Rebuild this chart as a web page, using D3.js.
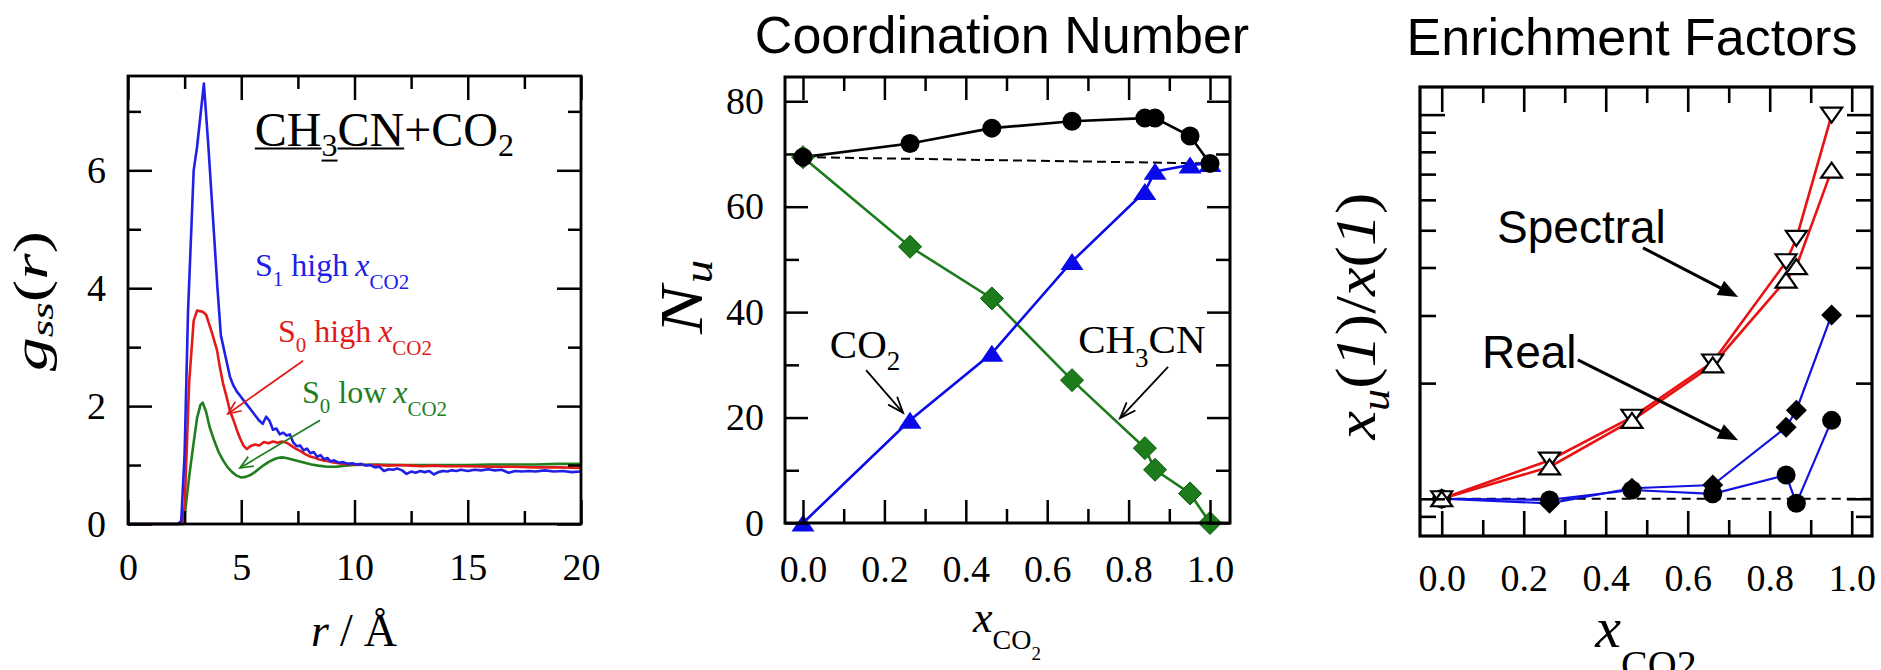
<!DOCTYPE html>
<html>
<head>
<meta charset="utf-8">
<script src="https://cdn.jsdelivr.net/npm/d3@7"></script>
<style>
  html, body { margin: 0; padding: 0; background: #fff; }
  svg { display: block; }
</style>
</head>
<body>
<svg id="fig" width="1881" height="670"></svg>
<script>
// ---------- data ----------
// radial distribution functions g_ss(r): [r (Å), g]
const gS1High = [[0,0],[2.2,0],[2.35,0.05],[2.5,1.2],[2.65,3.6],[2.9,6.0],[3.05,6.4],[3.35,7.47],[3.55,6.4],[3.75,5.2],[3.95,4.0],[4.1,3.2],[4.3,2.85],[4.5,2.5],[4.65,2.35],[4.8,2.25],[5.0,2.15],[5.2,2.05],[5.4,1.95],[5.6,1.85],[5.8,1.75],[5.95,1.7],[6.1,1.82],[6.25,1.75],[6.4,1.6],[6.55,1.62],[6.7,1.52],[6.85,1.55],[7.0,1.5],[7.15,1.52],[7.3,1.38],[7.45,1.32],[7.6,1.33],[7.75,1.25],[7.9,1.28],[8.05,1.2],[8.2,1.22],[8.35,1.14],[8.5,1.17],[8.65,1.1],[8.8,1.12],[8.95,1.06],[9.1,1.08],[9.3,1.04],[9.5,1.05],[9.7,1.02],[9.9,1.03],[10.1,1.01],[10.3,1.02],[10.5,0.99],[10.7,1.0],[10.9,0.96],[11.1,0.97],[11.3,0.9],[11.5,0.93],[11.7,0.92],[11.9,0.94],[12.1,0.91],[12.3,0.85],[12.5,0.89],[12.7,0.87],[12.9,0.9],[13.1,0.88],[13.3,0.9],[13.5,0.84],[13.7,0.88],[13.9,0.9],[14.1,0.89],[14.3,0.91],[14.5,0.9],[14.7,0.92],[15.0,0.9],[15.3,0.92],[15.6,0.91],[15.9,0.93],[16.2,0.91],[16.5,0.92],[16.8,0.87],[17.1,0.9],[17.4,0.89],[17.7,0.9],[18.0,0.89],[18.4,0.91],[18.8,0.89],[19.2,0.9],[19.6,0.88],[20,0.89]];
const gS0High = [[0,0],[2.35,0],[2.5,0.3],[2.7,2.4],[2.9,3.45],[3.05,3.62],[3.3,3.6],[3.45,3.55],[3.7,3.25],[3.93,2.95],[4.05,2.67],[4.2,2.38],[4.35,2.16],[4.5,1.92],[4.65,1.77],[4.8,1.6],[4.95,1.45],[5.1,1.33],[5.25,1.27],[5.4,1.32],[5.6,1.35],[5.8,1.33],[6.0,1.39],[6.2,1.37],[6.4,1.4],[6.6,1.38],[6.8,1.4],[7.0,1.38],[7.2,1.33],[7.4,1.28],[7.6,1.24],[7.8,1.19],[8.0,1.15],[8.2,1.13],[8.4,1.1],[8.6,1.08],[8.8,1.07],[9.0,1.05],[9.3,1.03],[9.6,1.02],[10,1.01],[10.5,1.0],[11,1.0],[11.5,0.99],[12,1.0],[12.5,0.99],[13,0.98],[13.5,0.99],[14,0.98],[15,0.98],[16,0.97],[17,0.97],[18,0.96],[19,0.96],[20,0.95]];
const gS0Low = [[0,0],[2.45,0],[2.55,0.3],[2.7,0.8],[2.87,1.3],[3.05,1.8],[3.2,2.02],[3.3,2.06],[3.45,1.9],[3.6,1.65],[3.8,1.42],[4.0,1.22],[4.2,1.08],[4.4,0.96],[4.6,0.88],[4.8,0.82],[5.0,0.79],[5.2,0.8],[5.4,0.83],[5.6,0.88],[5.8,0.94],[6.0,1.0],[6.2,1.05],[6.4,1.09],[6.6,1.12],[6.8,1.13],[7.0,1.12],[7.2,1.1],[7.5,1.07],[7.8,1.04],[8.1,1.01],[8.4,0.99],[8.8,0.97],[9.2,0.97],[9.6,0.99],[10,1.0],[11,1.01],[12,1.0],[13,1.0],[14,1.0],[15,1.0],[16,1.01],[17,1.01],[18,1.01],[19,1.02],[20,1.02]];

// coordination numbers vs CO2 mole fraction
const xMole  = [0, 0.263, 0.464, 0.661, 0.840, 0.865, 0.951, 1.0];
const nTotal = [69.4, 72.0, 74.9, 76.2, 76.8, 76.8, 73.4, 68.2];
const nCH3CN = [69.4, 52.4, 42.6, 27.1, 14.2, 10.1, 5.6, 0];
const nCO2   = [0, 19.5, 32.2, 49.6, 62.9, 66.7, 67.9, 68.2];

// enrichment factors x_u(1)/x(1)
const xEnrich     = [0, 0.263, 0.464, 0.661, 0.840, 0.865, 0.951];
const specDown    = [1.0, 1.26, 1.63, 2.27, 4.14, 4.76, 9.97];
const specUp      = [1.0, 1.21, 1.60, 2.23, 3.71, 4.02, 7.17];
const realDiamond = [1.0, 0.973, 1.065, 1.086, 1.535, 1.70, 3.01];
const realCircle  = [1.0, 0.993, 1.054, 1.03, 1.153, 0.973, 1.60];

// tick values
const rTicksMajor = [0, 5, 10, 15, 20];
const rTicksMinor = [2.5, 7.5, 12.5, 17.5];
const gTicksMajor = [0, 2, 4, 6];
const gTicksMinor = [1, 3, 5, 7];
const moleTicksMajor = [0, 0.2, 0.4, 0.6, 0.8, 1.0];
const moleTicksMinor = [0.1, 0.3, 0.5, 0.7, 0.9];
const nTicksMajor = [0, 20, 40, 60, 80];
const nTicksMinor = [10, 30, 50, 70];
const efTicksMajor = [1, 10];
const efTicksMinor = [0.9, 2, 3, 4, 5, 6, 7, 8, 9];

// ---------- helpers ----------
const SERIF = "'Liberation Serif', 'Times New Roman', serif";
const SANS = "'Liberation Sans', Arial, sans-serif";
const svg = d3.select("#fig");
svg.append("rect").attr("width", 1881).attr("height", 670).attr("fill", "#fff");

// lays out text runs side by side (sub/superscripts, italics, underlines)
function richText(parent, x, y, runs, opt = {}) {
  const g = parent.append("g");
  const inner = g.append("g");
  const fill = opt.fill || "#000";
  let cx = 0;
  runs.forEach(r => {
    cx += r.pre || 0;
    const t = inner.append("text")
      .attr("x", cx).attr("y", r.dy || 0)
      .attr("font-family", r.family || SERIF)
      .attr("font-size", r.size)
      .attr("font-style", r.italic ? "italic" : "normal")
      .attr("fill", r.fill || fill)
      .text(r.t);
    const w = t.node().getComputedTextLength();
    if (r.ul !== undefined) {
      inner.append("line").attr("x1", cx).attr("x2", cx + w)
        .attr("y1", r.ul).attr("y2", r.ul)
        .attr("stroke", r.fill || fill).attr("stroke-width", 2);
    }
    cx += w;
  });
  const sx = opt.length ? opt.length / cx : 1;
  const shift = opt.anchor === "middle" ? -cx / 2 : 0;
  inner.attr("transform", `translate(${shift},0)`);
  g.attr("transform", `translate(${x},${y}) rotate(${opt.rotate || 0}) scale(${sx},1)`);
  return g;
}

function arrow(g, x1, y1, x2, y2, o) {
  const dx = x2 - x1, dy = y2 - y1, L = Math.hypot(dx, dy);
  const ux = dx / L, uy = dy / L, px = -uy, py = ux;
  const bx = x2 - ux * o.headLen, by = y2 - uy * o.headLen;
  if (o.filled) {
    g.append("line").attr("x1", x1).attr("y1", y1)
      .attr("x2", bx + ux * 2).attr("y2", by + uy * 2)
      .attr("stroke", o.color).attr("stroke-width", o.width);
    g.append("path")
      .attr("d", `M${x2},${y2}L${bx + px * o.headHalf},${by + py * o.headHalf}L${bx - px * o.headHalf},${by - py * o.headHalf}Z`)
      .attr("fill", o.color);
  } else {
    g.append("line").attr("x1", x1).attr("y1", y1).attr("x2", x2).attr("y2", y2)
      .attr("stroke", o.color).attr("stroke-width", o.width);
    g.append("path")
      .attr("d", `M${bx + px * o.headHalf},${by + py * o.headHalf}L${x2},${y2}L${bx - px * o.headHalf},${by - py * o.headHalf}`)
      .attr("fill", "none").attr("stroke", o.color).attr("stroke-width", o.width)
      .attr("stroke-linejoin", "miter");
  }
}

function drawFrame(g, x, y, c) {
  const [xl, xr] = x.range();
  const [yb, yt] = y.range();
  const style = sel => {
    sel.select(".domain").remove();
    sel.selectAll(".tick line").attr("stroke", "#000").attr("stroke-width", c.tickW);
    sel.selectAll("text").attr("font-family", SERIF).attr("font-size", c.fontSize).attr("fill", "#000");
  };
  const fmtNone = () => "";
  // bottom
  g.append("g").attr("transform", `translate(0,${yb})`)
    .call(d3.axisBottom(x).tickValues(c.xMajor).tickSize(-c.majorLen).tickPadding(c.xPad).tickFormat(c.xFmt || fmtNone)).call(style);
  g.append("g").attr("transform", `translate(0,${yb})`)
    .call(d3.axisBottom(x).tickValues(c.xMinor).tickSize(-c.minorLen).tickFormat(fmtNone)).call(style);
  // top
  g.append("g").attr("transform", `translate(0,${yt})`)
    .call(d3.axisTop(x).tickValues(c.xMajor).tickSize(-c.majorLen).tickFormat(fmtNone)).call(style);
  g.append("g").attr("transform", `translate(0,${yt})`)
    .call(d3.axisTop(x).tickValues(c.xMinor).tickSize(-c.minorLen).tickFormat(fmtNone)).call(style);
  // left
  g.append("g").attr("transform", `translate(${xl},0)`)
    .call(d3.axisLeft(y).tickValues(c.yMajor).tickSize(-c.majorLen).tickPadding(c.yPad).tickFormat(c.yFmt || fmtNone)).call(style);
  g.append("g").attr("transform", `translate(${xl},0)`)
    .call(d3.axisLeft(y).tickValues(c.yMinor).tickSize(-c.minorLen).tickFormat(fmtNone)).call(style);
  // right
  g.append("g").attr("transform", `translate(${xr},0)`)
    .call(d3.axisRight(y).tickValues(c.yMajor).tickSize(-c.majorLen).tickFormat(fmtNone)).call(style);
  g.append("g").attr("transform", `translate(${xr},0)`)
    .call(d3.axisRight(y).tickValues(c.yMinor).tickSize(-c.minorLen).tickFormat(fmtNone)).call(style);
  g.append("rect").attr("x", xl).attr("y", yt).attr("width", xr - xl).attr("height", yb - yt)
    .attr("fill", "none").attr("stroke", "#000").attr("stroke-width", c.frameW);
}

const triPath = (w, h, down) => down
  ? `M0,${h / 2}L${w / 2},${-h / 2}L${-w / 2},${-h / 2}Z`
  : `M0,${-h / 2}L${w / 2},${h / 2}L${-w / 2},${h / 2}Z`;
const diamondPath = d => `M0,${-d / 2}L${d / 2},0L0,${d / 2}L${-d / 2},0Z`;

// ---------- panel 1: g_ss(r) ----------
{
  const g = svg.append("g");
  const x = d3.scaleLinear().domain([0, 20]).range([128, 581]);
  const y = d3.scaleLinear().domain([0, 7.6]).range([524, 76]);
  const line = d3.line().x(d => x(d[0])).y(d => y(d[1]));

  const curves = [
    { data: gS0Low, color: "#1f7f1f" },
    { data: gS0High, color: "#e21a1a" },
    { data: gS1High, color: "#2020e6" }
  ];
  curves.forEach(c => g.append("path").attr("d", line(c.data)).attr("fill", "none")
    .attr("stroke", c.color).attr("stroke-width", 2.6).attr("stroke-linejoin", "round"));

  drawFrame(g, x, y, {
    xMajor: rTicksMajor, xMinor: rTicksMinor, yMajor: gTicksMajor, yMinor: gTicksMinor,
    majorLen: 24, minorLen: 13, tickW: 2.5, frameW: 2.8, fontSize: 38,
    xPad: 29, yPad: 22, xFmt: d3.format("d"), yFmt: d3.format("d")
  });

  richText(g, x(5.6), y(6.42), [
    { t: "CH", size: 48, ul: 3 },
    { t: "3", size: 32, dy: 10, ul: 15 },
    { t: "CN", size: 48, ul: 3 },
    { t: "+CO", size: 48 },
    { t: "2", size: 32, dy: 10 }
  ]);

  const lbl = (r, gv, num, word, color) => richText(g, x(r), y(gv), [
    { t: "S", size: 32 },
    { t: num, size: 21, dy: 10 },
    { t: word, size: 32, pre: 8 },
    { t: "x", size: 32, italic: true, pre: 7 },
    { t: "CO2", size: 21, dy: 13 }
  ], { fill: color });
  lbl(5.61, 4.21, "1", "high", "#2020e6");
  lbl(6.62, 3.09, "0", "high", "#e21a1a");
  lbl(7.68, 2.05, "0", "low", "#1f7f1f");

  arrow(g, x(7.73), y(2.77), x(4.41), y(1.87), { color: "#e21a1a", width: 1.7, headLen: 13, headHalf: 5.5 });
  arrow(g, x(8.48), y(1.76), x(4.94), y(0.95), { color: "#1f7f1f", width: 1.7, headLen: 13, headHalf: 5.5 });

  richText(svg, 354, 646, [
    { t: "r", size: 46, italic: true },
    { t: "/", size: 46, pre: 11 },
    { t: "Å", size: 46, pre: 11 }
  ], { anchor: "middle" });

  richText(svg, 47, 301, [
    { t: "g", size: 48, italic: true },
    { t: "ss", size: 32, italic: true, dy: 6 },
    { t: "(", size: 48 },
    { t: "r", size: 48, italic: true },
    { t: ")", size: 48 }
  ], { anchor: "middle", rotate: -90, length: 140 });
}

// ---------- panel 2: coordination number ----------
{
  const g = svg.append("g");
  const x = d3.scaleLinear().domain([-0.0442, 1.0491]).range([785, 1230]);
  const y = d3.scaleLinear().domain([0, 84.6]).range([523, 77]);
  const line = vals => d3.line().x((d, i) => x(xMole[i])).y(d => y(d))(vals);

  g.append("line")
    .attr("x1", x(xMole[0])).attr("y1", y(nTotal[0]))
    .attr("x2", x(xMole[xMole.length - 1])).attr("y2", y(nTotal[nTotal.length - 1]))
    .attr("stroke", "#000").attr("stroke-width", 2).attr("stroke-dasharray", "9,5");

  g.append("path").attr("d", line(nCH3CN)).attr("fill", "none").attr("stroke", "#1c7c1c").attr("stroke-width", 2.6);
  g.append("path").attr("d", line(nCO2)).attr("fill", "none").attr("stroke", "#0a0ae8").attr("stroke-width", 2.6);
  g.append("path").attr("d", line(nTotal)).attr("fill", "none").attr("stroke", "#000").attr("stroke-width", 2.6);

  g.selectAll(".dia").data(nCH3CN).join("path")
    .attr("transform", (d, i) => `translate(${x(xMole[i])},${y(d)})`)
    .attr("d", diamondPath(23)).attr("fill", "#1c7c1c").attr("stroke", "#0d5a0d").attr("stroke-width", 1);
  g.selectAll(".tri").data(nCO2).join("path")
    .attr("transform", (d, i) => `translate(${x(xMole[i])},${y(d)})`)
    .attr("d", triPath(23, 17, false)).attr("fill", "#0a0ae8");
  g.selectAll(".cir").data(nTotal).join("circle")
    .attr("cx", (d, i) => x(xMole[i])).attr("cy", d => y(d)).attr("r", 9.5).attr("fill", "#000");

  drawFrame(g, x, y, {
    xMajor: moleTicksMajor, xMinor: moleTicksMinor, yMajor: nTicksMajor, yMinor: nTicksMinor,
    majorLen: 23, minorLen: 14, tickW: 2.5, frameW: 3, fontSize: 38,
    xPad: 32, yPad: 21, xFmt: d3.format(".1f"), yFmt: d3.format("d")
  });

  richText(g, x(0.066), y(31.3), [{ t: "CO", size: 41 }, { t: "2", size: 27, dy: 12 }]);
  richText(g, x(0.676), y(32.2), [{ t: "CH", size: 41 }, { t: "3", size: 27, dy: 14 }, { t: "CN", size: 41 }]);
  arrow(g, x(0.155), y(29.0), x(0.246), y(20.9), { color: "#000", width: 1.8, headLen: 16, headHalf: 6 });
  arrow(g, x(0.897), y(29.6), x(0.779), y(19.9), { color: "#000", width: 1.8, headLen: 16, headHalf: 6 });

  richText(svg, 1007, 632, [
    { t: "x", size: 44, italic: true },
    { t: "CO", size: 28, dy: 17 },
    { t: "2", size: 19, dy: 28 }
  ], { anchor: "middle" });

  richText(svg, 702, 297, [
    { t: "N", size: 62, italic: true },
    { t: "u", size: 40, italic: true, dy: 10, pre: 2 }
  ], { anchor: "middle", rotate: -90, length: 74 });

  svg.append("text").attr("x", 1002).attr("y", 53).attr("text-anchor", "middle")
    .attr("font-family", SANS).attr("font-size", 52).attr("fill", "#000").text("Coordination Number");
}

// ---------- panel 3: enrichment factors ----------
{
  const g = svg.append("g");
  const x = d3.scaleLinear().domain([-0.053, 1.0495]).range([1420, 1872]);
  const y = d3.scaleLog().domain([0.8, 11.8]).range([536, 87]);
  const line = vals => d3.line().x((d, i) => x(xEnrich[i])).y(d => y(d))(vals);

  g.append("line").attr("x1", x(0)).attr("x2", x.range()[1]).attr("y1", y(1)).attr("y2", y(1))
    .attr("stroke", "#000").attr("stroke-width", 2).attr("stroke-dasharray", "9,6");

  [specDown, specUp].forEach(s => g.append("path").attr("d", line(s)).attr("fill", "none")
    .attr("stroke", "#e81212").attr("stroke-width", 2.6));
  [realDiamond, realCircle].forEach(s => g.append("path").attr("d", line(s)).attr("fill", "none")
    .attr("stroke", "#1212e0").attr("stroke-width", 2.2));

  g.selectAll(".cir").data(realCircle).join("circle")
    .attr("cx", (d, i) => x(xEnrich[i])).attr("cy", d => y(d)).attr("r", 9.5).attr("fill", "#000");
  g.selectAll(".dia").data(realDiamond).join("path")
    .attr("transform", (d, i) => `translate(${x(xEnrich[i])},${y(d)})`)
    .attr("d", diamondPath(21)).attr("fill", "#000");
  g.selectAll(".tdn").data(specDown).join("path")
    .attr("transform", (d, i) => `translate(${x(xEnrich[i])},${y(d)})`)
    .attr("d", triPath(21, 15, true)).attr("fill", "#fff").attr("stroke", "#000").attr("stroke-width", 2.2);
  g.selectAll(".tup").data(specUp).join("path")
    .attr("transform", (d, i) => `translate(${x(xEnrich[i])},${y(d)})`)
    .attr("d", triPath(21, 15, false)).attr("fill", "#fff").attr("stroke", "#000").attr("stroke-width", 2.2);

  drawFrame(g, x, y, {
    xMajor: moleTicksMajor, xMinor: moleTicksMinor, yMajor: efTicksMajor, yMinor: efTicksMinor,
    majorLen: 25, minorLen: 16, tickW: 2.6, frameW: 3.2, fontSize: 38,
    xPad: 28, yPad: 10, xFmt: d3.format(".1f"), yFmt: null
  });

  g.append("text").attr("x", x(0.135)).attr("y", y(4.63)).attr("font-family", SANS)
    .attr("font-size", 46).attr("fill", "#000").text("Spectral");
  g.append("text").attr("x", x(0.098)).attr("y", y(2.19)).attr("font-family", SANS)
    .attr("font-size", 46).attr("fill", "#000").text("Real");
  arrow(g, x(0.491), y(4.50), x(0.723), y(3.35), { color: "#000", width: 3, headLen: 20, headHalf: 8, filled: true });
  arrow(g, x(0.332), y(2.30), x(0.723), y(1.42), { color: "#000", width: 3, headLen: 20, headHalf: 8, filled: true });

  richText(svg, 1646, 647, [
    { t: "x", size: 58, italic: true },
    { t: "CO2", size: 40, dy: 31 }
  ], { anchor: "middle" });

  richText(svg, 1375, 316, [
    { t: "x", size: 58, italic: true },
    { t: "u", size: 40, italic: true, dy: 14 },
    { t: "(", size: 58 },
    { t: "1", size: 58, italic: true },
    { t: ")", size: 58 },
    { t: "/", size: 58 },
    { t: "x", size: 58, italic: true },
    { t: "(", size: 58 },
    { t: "1", size: 58, italic: true },
    { t: ")", size: 58 }
  ], { anchor: "middle", rotate: -90, length: 247 });

  svg.append("text").attr("x", 1632).attr("y", 55).attr("text-anchor", "middle")
    .attr("font-family", SANS).attr("font-size", 52).attr("fill", "#000").text("Enrichment Factors");
}
</script>
</body>
</html>
